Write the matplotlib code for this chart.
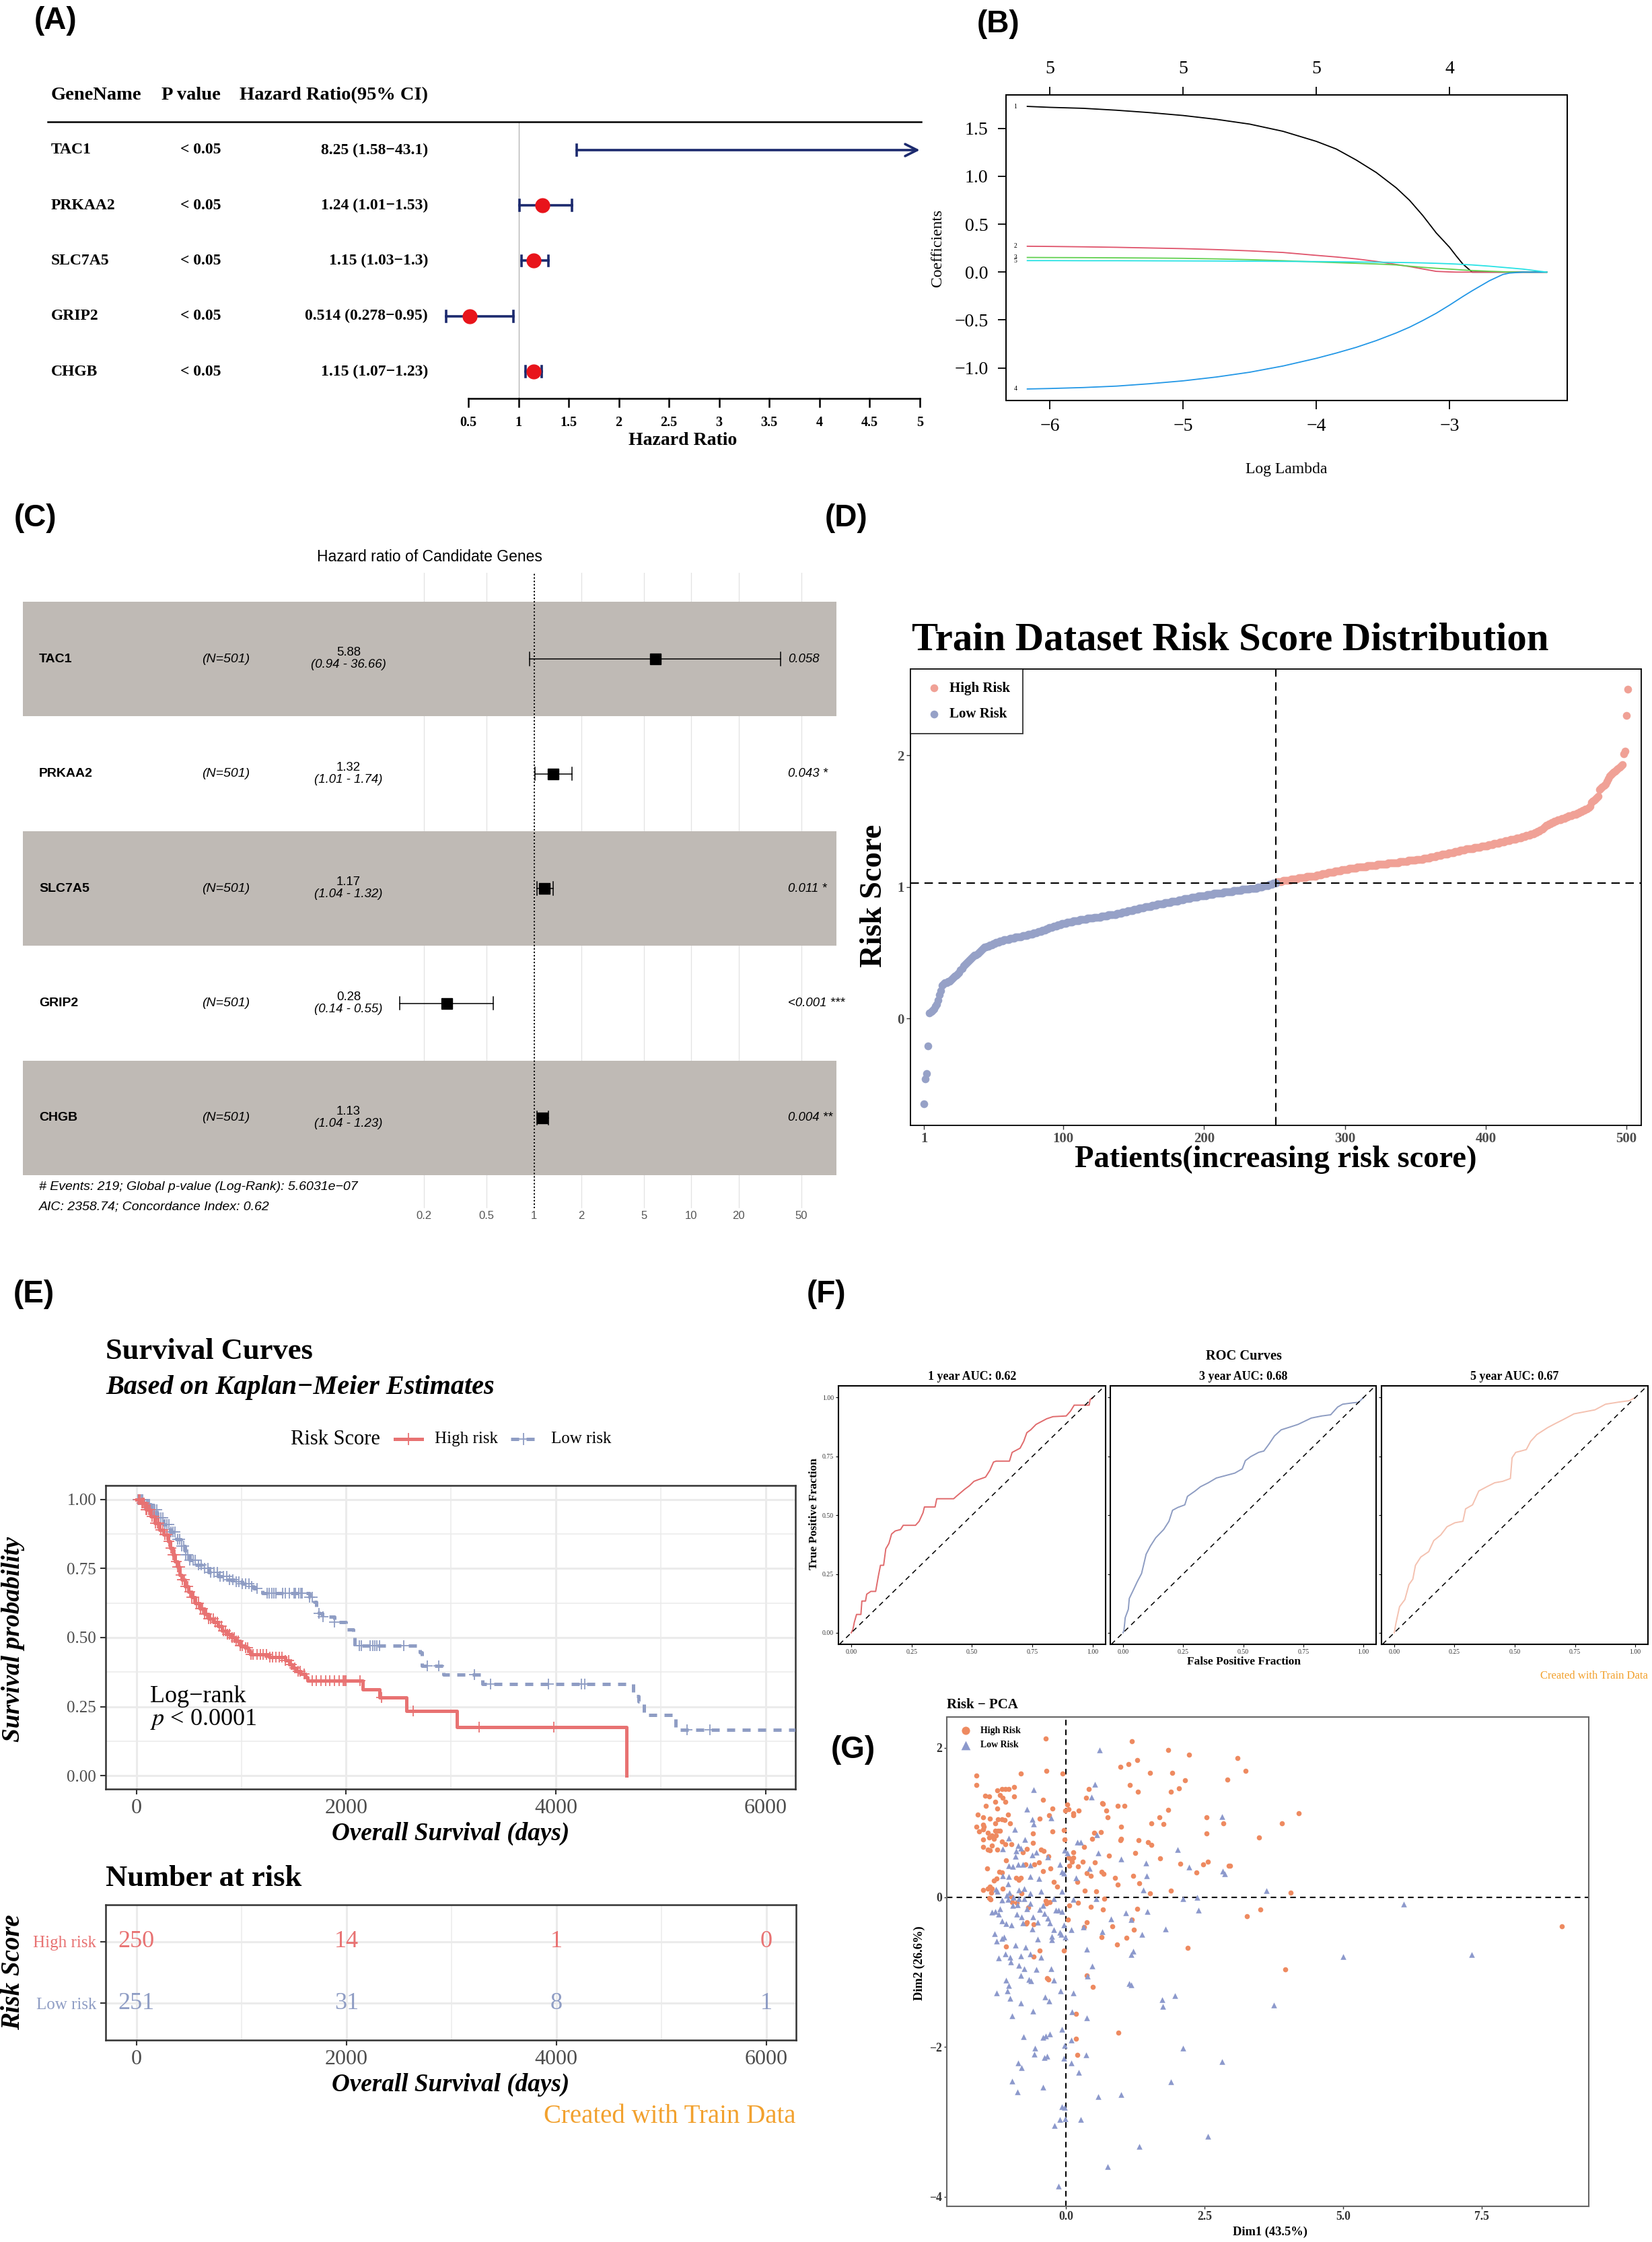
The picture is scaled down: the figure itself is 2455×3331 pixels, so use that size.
import numpy as np
import matplotlib
matplotlib.use('Agg')
import matplotlib.pyplot as plt
from matplotlib.lines import Line2D
from matplotlib import transforms as mtrans

plt.rcParams['font.family'] = ['Liberation Serif', 'DejaVu Serif']
plt.rcParams['mathtext.fontset'] = 'stix'
SANS = ['Liberation Sans', 'DejaVu Sans']

# ---------------- data ----------------
# (A) univariate cox
genes = ['TAC1', 'PRKAA2', 'SLC7A5', 'GRIP2', 'CHGB']
uni_p = ['< 0.05', '< 0.05', '< 0.05', '< 0.05', '< 0.05']
uni_hr = [8.25, 1.24, 1.15, 0.514, 1.15]
uni_lo = [1.58, 1.01, 1.03, 0.278, 1.07]
uni_hi = [43.1, 1.53, 1.3, 0.95, 1.23]

# (B) lasso coefficient paths
log_lambda = [-6.17, -6.0, -5.75, -5.5, -5.25, -5.0, -4.75, -4.5, -4.25, -4.0, -3.85, -3.7, -3.55,
              -3.4, -3.3, -3.2, -3.1, -3.0, -2.95, -2.9, -2.83, -2.7, -2.6, -2.55, -2.45, -2.27]
coef1 = [1.73, 1.72, 1.71, 1.69, 1.665, 1.635, 1.595, 1.545, 1.47, 1.365, 1.285, 1.17, 1.04,
         0.88, 0.75, 0.59, 0.41, 0.26, 0.17, 0.085, 0.0, 0, 0, 0, 0, 0]
coef2 = [0.27, 0.268, 0.264, 0.259, 0.252, 0.245, 0.235, 0.222, 0.205, 0.175, 0.158, 0.138, 0.112,
         0.08, 0.058, 0.033, 0.008, 0.002, 0, 0, 0, 0, 0, 0, 0, 0]
coef3 = [0.153, 0.152, 0.151, 0.149, 0.147, 0.144, 0.138, 0.130, 0.119, 0.106, 0.099, 0.092, 0.085,
         0.075, 0.062, 0.05, 0.04, 0.032, 0.027, 0.022, 0.017, 0.009, 0.004, 0.001, 0, 0]
coef4 = [-1.22, -1.215, -1.205, -1.19, -1.165, -1.135, -1.095, -1.045, -0.98, -0.90, -0.845, -0.785, -0.715,
         -0.635, -0.575, -0.505, -0.43, -0.345, -0.30, -0.255, -0.195, -0.09, -0.025, -0.01, 0.0, 0.0]
coef5 = [0.120, 0.120, 0.119, 0.119, 0.118, 0.117, 0.116, 0.114, 0.112, 0.110, 0.108, 0.106, 0.104,
         0.101, 0.099, 0.096, 0.092, 0.087, 0.084, 0.080, 0.075, 0.062, 0.050, 0.044, 0.032, 0.0]
top_df = ['5', '5', '5', '4']

# (C) multivariate cox
mv_n = ['(N=501)'] * 5
mv_hr = [5.88, 1.32, 1.17, 0.28, 1.13]
mv_lo = [0.94, 1.01, 1.04, 0.14, 1.04]
mv_hi = [36.66, 1.74, 1.32, 0.55, 1.23]
mv_p = ['0.058', '0.043 *', '0.011 *', '<0.001 ***', '0.004 **']
mv_ticks = [0.2, 0.5, 1, 2, 5, 10, 20, 50]

# (D) sorted risk scores
risk_low = [
    -0.65, -0.46, -0.42, -0.21, 0.04, 0.05, 0.06, 0.07, 0.09, 0.11,
    0.14, 0.18, 0.21, 0.25, 0.26, 0.27, 0.27, 0.28, 0.28, 0.29,
    0.30, 0.31, 0.32, 0.33, 0.34, 0.35, 0.37, 0.38, 0.40, 0.41,
    0.42, 0.43, 0.44, 0.45, 0.46, 0.47, 0.48, 0.48, 0.49, 0.50,
    0.51, 0.52, 0.53, 0.54, 0.54, 0.55, 0.55, 0.56, 0.56, 0.57,
    0.57, 0.58, 0.58, 0.58, 0.59, 0.59, 0.59, 0.60, 0.60, 0.60,
    0.60, 0.61, 0.61, 0.61, 0.61, 0.62, 0.62, 0.62, 0.62, 0.62,
    0.63, 0.63, 0.63, 0.63, 0.64, 0.64, 0.64, 0.64, 0.65, 0.65,
    0.65, 0.66, 0.66, 0.66, 0.67, 0.67, 0.67, 0.68, 0.68, 0.69,
    0.69, 0.69, 0.70, 0.70, 0.70, 0.71, 0.71, 0.71, 0.72, 0.72,
    0.72, 0.72, 0.73, 0.73, 0.73, 0.73, 0.74, 0.74, 0.74, 0.74,
    0.74, 0.75, 0.75, 0.75, 0.75, 0.75, 0.76, 0.76, 0.76, 0.76,
    0.76, 0.77, 0.77, 0.77, 0.77, 0.77, 0.78, 0.78, 0.78, 0.78,
    0.78, 0.79, 0.79, 0.79, 0.79, 0.79, 0.79, 0.80, 0.80, 0.80,
    0.80, 0.81, 0.81, 0.81, 0.81, 0.82, 0.82, 0.82, 0.82, 0.83,
    0.83, 0.83, 0.83, 0.84, 0.84, 0.84, 0.84, 0.85, 0.85, 0.85,
    0.85, 0.85, 0.86, 0.86, 0.86, 0.86, 0.87, 0.87, 0.87, 0.87,
    0.87, 0.88, 0.88, 0.88, 0.88, 0.88, 0.89, 0.89, 0.89, 0.89,
    0.89, 0.90, 0.90, 0.90, 0.90, 0.91, 0.91, 0.91, 0.91, 0.91,
    0.92, 0.92, 0.92, 0.92, 0.92, 0.93, 0.93, 0.93, 0.93, 0.93,
    0.93, 0.94, 0.94, 0.94, 0.94, 0.94, 0.95, 0.95, 0.95, 0.95,
    0.95, 0.95, 0.95, 0.96, 0.96, 0.96, 0.96, 0.96, 0.96, 0.96,
    0.97, 0.97, 0.97, 0.97, 0.97, 0.97, 0.98, 0.98, 0.98, 0.98,
    0.98, 0.98, 0.99, 0.99, 0.99, 0.99, 0.99, 1.00, 1.00, 1.00,
    1.00, 1.01, 1.01, 1.01, 1.01, 1.02, 1.02, 1.02, 1.03, 1.03,
    1.03]
risk_high = [
    1.04, 1.04, 1.04, 1.04, 1.05, 1.05, 1.05, 1.05, 1.05,
    1.05, 1.06, 1.06, 1.06, 1.06, 1.06, 1.07, 1.07, 1.07, 1.07,
    1.07, 1.07, 1.08, 1.08, 1.08, 1.08, 1.08, 1.08, 1.08, 1.09,
    1.09, 1.09, 1.09, 1.10, 1.10, 1.10, 1.10, 1.11, 1.11, 1.11,
    1.11, 1.11, 1.12, 1.12, 1.12, 1.12, 1.12, 1.13, 1.13, 1.13,
    1.13, 1.13, 1.14, 1.14, 1.14, 1.14, 1.14, 1.14, 1.15, 1.15,
    1.15, 1.15, 1.15, 1.15, 1.15, 1.16, 1.16, 1.16, 1.16, 1.16,
    1.16, 1.16, 1.17, 1.17, 1.17, 1.17, 1.17, 1.17, 1.17, 1.17,
    1.18, 1.18, 1.18, 1.18, 1.18, 1.18, 1.18, 1.18, 1.19, 1.19,
    1.19, 1.19, 1.19, 1.19, 1.20, 1.20, 1.20, 1.20, 1.20, 1.20,
    1.21, 1.21, 1.21, 1.21, 1.21, 1.22, 1.22, 1.22, 1.22, 1.22,
    1.23, 1.23, 1.23, 1.23, 1.24, 1.24, 1.24, 1.24, 1.25, 1.25,
    1.25, 1.25, 1.25, 1.26, 1.26, 1.26, 1.26, 1.27, 1.27, 1.27,
    1.27, 1.28, 1.28, 1.28, 1.28, 1.29, 1.29, 1.29, 1.29, 1.29,
    1.29, 1.30, 1.30, 1.30, 1.30, 1.30, 1.31, 1.31, 1.31, 1.31,
    1.31, 1.32, 1.32, 1.32, 1.32, 1.33, 1.33, 1.33, 1.33, 1.34,
    1.34, 1.34, 1.34, 1.35, 1.35, 1.35, 1.35, 1.36, 1.36, 1.36,
    1.36, 1.37, 1.37, 1.37, 1.37, 1.38, 1.38, 1.38, 1.39, 1.39,
    1.39, 1.40, 1.40, 1.40, 1.41, 1.41, 1.42, 1.42, 1.43, 1.44,
    1.45, 1.46, 1.47, 1.47, 1.48, 1.48, 1.49, 1.49, 1.50, 1.50,
    1.51, 1.51, 1.51, 1.52, 1.52, 1.52, 1.53, 1.53, 1.54, 1.54,
    1.54, 1.55, 1.55, 1.55, 1.56, 1.56, 1.57, 1.57, 1.58, 1.58,
    1.59, 1.59, 1.60, 1.61, 1.64, 1.65, 1.66, 1.67, 1.68, 1.69,
    1.74, 1.75, 1.76, 1.77, 1.78, 1.80, 1.82, 1.84, 1.85, 1.86,
    1.87, 1.88, 1.89, 1.90, 1.91, 1.92, 1.93, 2.01, 2.03, 2.30, 2.50]
risk_cut = 1.03

# (E) Kaplan-Meier
km_high_t = [0, 47, 90, 133, 176, 218, 261, 304, 325, 347, 368, 390, 411, 432, 465, 497, 529, 561,
             604, 647, 689, 732, 775, 818, 861, 904, 946, 989, 1032, 1064, 1085, 1267, 1417, 1460,
             1492, 1524, 1567, 1610, 1631, 2156, 2316, 2573, 3055, 4675]
km_high_s = [1.0, 0.986, 0.962, 0.938, 0.913, 0.889, 0.873, 0.848, 0.824, 0.800, 0.775, 0.755, 0.726,
             0.710, 0.686, 0.666, 0.645, 0.625, 0.605, 0.584, 0.568, 0.556, 0.540, 0.524, 0.511, 0.499,
             0.487, 0.471, 0.463, 0.450, 0.438, 0.430, 0.418, 0.402, 0.390, 0.377, 0.369, 0.357, 0.345,
             0.3125, 0.284, 0.235, 0.176, 0.0]
km_low_t = [0, 4, 68, 133, 197, 261, 325, 379, 422, 465, 507, 561, 625, 689, 775, 861, 946, 1010, 1075,
            1118, 1160, 1203, 1653, 1696, 1717, 1738, 1771, 1888, 1995, 2070, 2081, 2702, 2723, 2927,
            3303, 4741, 4790, 4840, 5140, 6300]
km_low_s = [1.0, 0.998, 0.982, 0.962, 0.933, 0.909, 0.881, 0.856, 0.832, 0.800, 0.779, 0.763, 0.751,
            0.735, 0.722, 0.710, 0.702, 0.694, 0.686, 0.678, 0.671, 0.661, 0.645, 0.629, 0.605, 0.588,
            0.576, 0.556, 0.528, 0.499, 0.470, 0.446, 0.398, 0.365, 0.331, 0.288, 0.268, 0.221, 0.166,
            0.166]
cens_high = [20, 35, 50, 60, 75, 90, 100, 115, 130, 150, 165, 180, 200, 215, 230, 250, 270, 290, 310,
             330, 350, 365, 380, 395, 410, 425, 440, 455, 470, 490, 510, 530, 550, 570, 590, 610, 630,
             650, 670, 690, 710, 730, 750, 770, 790, 810, 830, 850, 870, 890, 910, 930, 950, 970, 990,
             1010, 1040, 1060, 1090, 1110, 1150, 1180, 1210, 1240, 1270, 1300, 1330, 1360, 1390, 1420,
             1450, 1480, 1510, 1540, 1560, 1600, 1674, 1717, 1760, 1803, 1846, 1888, 1931, 1974, 1985,
             1995, 2134, 2338, 2638, 3270, 3978]
cens_low = [15, 30, 45, 60, 80, 95, 110, 125, 140, 160, 175, 195, 210, 230, 250, 270, 290, 310, 330,
            350, 370, 390, 410, 430, 450, 470, 490, 510, 540, 560, 590, 620, 650, 680, 710, 740, 770,
            800, 830, 860, 890, 920, 950, 980, 1010, 1040, 1070, 1100, 1150, 1246, 1267, 1289, 1310,
            1332, 1396, 1417, 1460, 1503, 1514, 1546, 1567, 1578, 1653, 1674, 1738, 1781, 1888, 2124,
            2145, 2231, 2252, 2274, 2295, 2317, 2552, 2777, 2883, 3221, 3380, 3929, 4243, 4276, 5250,
            5471]
risk_times = [0, 2000, 4000, 6000]
risk_n_high = [250, 14, 1, 0]
risk_n_low = [251, 31, 8, 1]

# (F) time-dependent ROC
roc_years = [1, 3, 5]
roc_auc = ['0.62', '0.68', '0.67']
fpr1 = [0, 0.007, 0.013, 0.022, 0.04, 0.044, 0.059, 0.064, 0.081, 0.101, 0.112, 0.121, 0.134, 0.143,
        0.156, 0.167, 0.182, 0.204, 0.215, 0.266, 0.281, 0.297, 0.303, 0.347, 0.354, 0.424, 0.437,
        0.451, 0.468, 0.49, 0.508, 0.523, 0.556, 0.574, 0.589, 0.6, 0.655, 0.666, 0.677, 0.699, 0.714,
        0.727, 0.743, 0.765, 0.787, 0.809, 0.835, 0.89, 0.908, 0.923, 0.985, 0.989, 1.0]
tpr1 = [0, 0.015, 0.046, 0.078, 0.078, 0.135, 0.135, 0.164, 0.176, 0.176, 0.24, 0.287, 0.287, 0.357,
        0.38, 0.42, 0.433, 0.439, 0.457, 0.457, 0.474, 0.51, 0.535, 0.535, 0.57, 0.57, 0.582, 0.594,
        0.609, 0.626, 0.644, 0.65, 0.662, 0.691, 0.726, 0.73, 0.73, 0.767, 0.773, 0.785, 0.814, 0.851,
        0.863, 0.886, 0.898, 0.91, 0.919, 0.922, 0.943, 0.968, 0.968, 0.992, 1.0]
fpr2 = [0, 0.004, 0.009, 0.022, 0.026, 0.042, 0.059, 0.077, 0.088, 0.096, 0.114, 0.136, 0.169, 0.191,
        0.206, 0.228, 0.257, 0.268, 0.3, 0.322, 0.355, 0.388, 0.421, 0.465, 0.496, 0.509, 0.531, 0.564,
        0.586, 0.607, 0.63, 0.658, 0.695, 0.728, 0.783, 0.827, 0.864, 0.893, 0.914, 0.958, 0.98, 1.0]
tpr2 = [0, 0.012, 0.064, 0.1, 0.146, 0.18, 0.217, 0.252, 0.299, 0.334, 0.369, 0.404, 0.439, 0.474,
        0.521, 0.533, 0.544, 0.58, 0.603, 0.621, 0.638, 0.658, 0.667, 0.679, 0.697, 0.732, 0.749, 0.767,
        0.773, 0.802, 0.837, 0.863, 0.875, 0.886, 0.913, 0.922, 0.927, 0.96, 0.972, 0.978, 0.98, 1.0]
fpr3 = [0, 0.007, 0.022, 0.044, 0.061, 0.077, 0.088, 0.11, 0.143, 0.164, 0.193, 0.219, 0.252, 0.285,
        0.296, 0.325, 0.351, 0.384, 0.417, 0.45, 0.482, 0.489, 0.504, 0.548, 0.566, 0.592, 0.636, 0.669,
        0.702, 0.746, 0.833, 0.877, 0.932, 0.976, 1.0]
tpr3 = [0, 0.041, 0.111, 0.141, 0.205, 0.228, 0.287, 0.322, 0.345, 0.392, 0.416, 0.451, 0.468, 0.474,
        0.527, 0.544, 0.603, 0.621, 0.638, 0.644, 0.656, 0.744, 0.767, 0.779, 0.814, 0.843, 0.872, 0.89,
        0.907, 0.931, 0.948, 0.972, 0.981, 0.987, 1.0]

# (G) PCA scores
pca_high = [
    (-0.36, 2.12), (1.19, 2.09), (1.84, 1.97), (2.22, 1.91), (3.09, 1.86), (1.29, 1.83), (1.13, 1.78),
    (0.98, 1.74), (3.24, 1.69), (-0.35, 1.69), (1.51, 1.66), (1.92, 1.66), (-0.06, 1.65), (-0.81, 1.65),
    (-1.62, 1.63), (2.91, 1.57), (2.15, 1.56), (1.15, 1.50), (-1.62, 1.50), (2.04, 1.46), (0.41, 1.45),
    (-0.94, 1.47), (-1.03, 1.45), (-1.10, 1.45), (-1.16, 1.45), (-1.24, 1.43), (1.30, 1.41), (1.89, 1.41),
    (-1.46, 1.36), (-1.39, 1.35), (-1.19, 1.37), (-0.94, 1.35), (-1.14, 1.33), (0.36, 1.33), (-0.42, 1.30),
    (-1.10, 1.28), (-1.27, 1.28), (0.66, 1.26), (0.67, 1.25), (1.06, 1.22), (0.93, 1.22), (-1.44, 1.22),
    (0.02, 1.24), (-1.24, 1.19), (-0.24, 1.19), (-0.01, 1.16), (0.05, 1.18), (0.23, 1.16), (0.73, 1.16),
    (-1.59, 1.11), (-1.05, 1.11), (-0.31, 1.10), (0.13, 1.12), (0.13, 1.10), (4.20, 1.12), (-1.49, 1.07),
    (-1.37, 1.05), (-1.23, 1.04), (-1.16, 1.04), (-1.11, 1.03), (-0.48, 1.05), (0.75, 1.07), (1.69, 1.07),
    (2.54, 1.07), (1.84, 1.17), (-1.50, 0.97), (-1.28, 0.99), (-1.01, 0.99), (1.54, 0.99), (1.76, 0.98),
    (2.84, 0.99), (3.90, 0.99), (-1.62, 0.94), (-1.48, 0.94), (-1.49, 0.91), (0.99, 0.94), (-1.27, 0.89),
    (-1.23, 0.89), (-1.19, 0.89), (-0.25, 0.88), (-0.04, 0.90), (-1.57, 0.88), (-1.41, 0.86), (-1.34, 0.83),
    (-1.26, 0.83), (-1.38, 0.80), (-1.30, 0.78), (0.63, 0.87), (0.51, 0.86), (-0.60, 0.85), (3.48, 0.80),
    (2.54, 0.85), (-1.49, 0.77), (-0.03, 0.77), (0.47, 0.78), (0.99, 0.78), (1.31, 0.76), (1.48, 0.74),
    (0.98, 0.76), (-1.16, 0.75), (1.54, 0.70), (-0.99, 0.71), (-1.34, 0.69), (-1.10, 0.71), (-0.60, 0.73),
    (-1.50, 0.67), (-1.41, 0.64), (-1.37, 0.63), (-1.24, 0.64), (-0.71, 0.65), (-0.45, 0.64), (0.33, 0.67),
    (-0.40, 0.62), (-0.78, 0.60), (0.13, 0.60), (1.25, 0.59), (0.78, 0.56), (-0.32, 0.55), (0.05, 0.53),
    (0.09, 0.51), (0.13, 0.53), (0.11, 0.48), (1.70, 0.52), (-1.08, 0.49), (0.30, 0.48), (-0.49, 0.47),
    (0.52, 0.47), (2.56, 0.48), (2.96, 0.42), (2.93, 0.42), (2.06, 0.45), (2.48, 0.44), (-0.73, 0.44),
    (-0.57, 0.44), (0.22, 0.41), (0.06, 0.42), (-0.28, 0.39), (-1.42, 0.39), (-0.41, 0.35), (-1.20, 0.34),
    (-1.16, 0.33), (0.64, 0.34), (2.35, 0.33), (0.38, 0.32), (0.68, 0.31), (1.21, 0.29), (0.45, 0.29),
    (-0.90, 0.26), (-0.81, 0.26), (0.88, 0.26), (-1.25, 0.25), (-0.85, 0.23), (-1.30, 0.22), (0.21, 0.21),
    (-0.22, 0.21), (0.93, 0.17), (1.32, 0.19), (-1.37, 0.14), (-1.41, 0.12), (-1.34, 0.12), (-1.14, 0.12),
    (-0.16, 0.14), (-1.49, 0.10), (1.89, 0.09), (0.34, 0.09), (0.55, 0.08), (4.05, 0.06), (-1.35, 0.06),
    (1.51, 0.05), (-0.80, 0.05), (-0.99, 0.01), (-1.36, -0.03), (-1.39, -0.01), (-0.36, -0.05),
    (-0.29, -0.06), (0.69, -0.02), (0.22, -0.07), (-0.35, -0.08), (-0.97, -0.06), (-0.89, -0.07),
    (0.06, -0.11), (0.45, -0.13), (0.67, -0.16), (1.29, -0.15), (3.51, -0.16), (-0.68, -0.14),
    (3.26, -0.25), (1.19, -0.30), (0.04, -0.30), (0.37, -0.33), (0.84, -0.39), (1.23, -0.43),
    (0.33, -0.40), (0.64, -0.53), (1.09, -0.54), (-0.70, -0.33), (-0.72, -0.35), (-0.59, -0.36),
    (8.95, -0.39), (0.92, -0.63), (2.20, -0.68), (-1.08, -0.66), (-0.47, -0.71), (-0.04, -0.71),
    (-0.59, -0.79), (3.95, -0.96), (0.38, -1.04), (-0.34, -1.08), (0.49, -1.20), (0.18, -1.56),
    (0.95, -1.81), (0.18, -1.89), (0.21, -2.11), (-0.32, -1.10)]
pca_low = [
    (0.60, 1.97), (0.52, 1.51), (-0.59, 1.44), (0.46, 1.34), (-0.71, 1.18), (-0.61, 1.04), (-0.58, 0.98),
    (-0.27, 1.06), (2.81, 1.08), (-0.92, 0.91), (0.56, 0.84), (-1.03, 0.79), (-0.74, 0.77), (0.21, 0.74),
    (0.26, 0.74), (-0.86, 0.69), (-0.81, 0.66), (-1.14, 0.65), (-0.90, 0.62), (-0.54, 0.60), (-0.03, 0.63),
    (0.02, 0.59), (0.58, 0.59), (2.01, 0.64), (-0.91, 0.55), (-0.61, 0.57), (-0.33, 0.54), (0.99, 0.51),
    (-0.86, 0.44), (-1.03, 0.42), (-0.96, 0.41), (-0.78, 0.44), (-0.65, 0.43), (-0.11, 0.44), (0.42, 0.39),
    (2.22, 0.40), (1.44, 0.46), (2.83, 0.35), (2.86, 0.31), (-1.14, 0.29), (-1.03, 0.28), (-0.08, 0.34),
    (-0.04, 0.32), (0.18, 0.26), (1.45, 0.29), (-0.65, 0.28), (-0.49, 0.25), (-1.04, 0.18), (-1.26, 0.11),
    (-1.24, 0.08), (-1.02, 0.06), (-0.85, 0.10), (-0.76, 0.12), (-0.65, 0.05), (-0.45, 0.08), (-0.08, 0.08),
    (1.39, 0.10), (3.62, 0.09), (-1.07, 0.03), (-0.95, 0.00), (-0.85, -0.02), (-1.05, -0.03), (-1.16, -0.04),
    (-0.75, -0.02), (-0.22, -0.02), (0.13, -0.03), (0.54, -0.02), (2.11, -0.02), (2.37, 0.00), (-0.65, -0.08),
    (-0.96, -0.11), (-0.87, -0.10), (-1.19, -0.15), (-1.34, -0.20), (-1.28, -0.19), (-0.71, -0.15),
    (-0.48, -0.16), (-0.18, -0.17), (-0.13, -0.17), (-0.07, -0.19), (-0.41, -0.11), (2.39, -0.17),
    (1.47, -0.19), (1.08, -0.21), (-1.22, -0.23), (-0.80, -0.26), (-0.89, -0.23), (-0.39, -0.22),
    (-0.33, -0.28), (-0.60, -0.26), (0.81, -0.29), (1.18, -0.30), (-1.16, -0.32), (-1.08, -0.35),
    (-0.99, -0.37), (-0.78, -0.34), (-0.51, -0.33), (-0.29, -0.34), (-0.04, -0.37), (0.09, -0.43),
    (0.31, -0.40), (1.79, -0.42), (-0.61, -0.42), (-0.22, -0.43), (0.65, -0.46), (1.37, -0.50),
    (-1.29, -0.49), (-0.11, -0.47), (-0.09, -0.50), (-0.01, -0.53), (-0.26, -0.52), (-0.51, -0.56),
    (-1.16, -0.55), (-1.12, -0.53), (-1.25, -0.59), (-0.91, -0.64), (-0.73, -0.67), (-0.26, -0.57),
    (0.37, -0.69), (1.21, -0.72), (1.18, -0.77), (-1.22, -0.81), (-1.10, -0.76), (-1.01, -0.80),
    (-0.81, -0.78), (-0.65, -0.76), (-0.45, -0.80), (5.00, -0.79), (7.32, -0.77), (6.09, -0.09),
    (-0.85, -0.91), (-0.76, -0.95), (-0.54, -0.96), (-0.27, -0.95), (0.47, -0.92), (-1.00, -0.86),
    (-0.82, -1.04), (-0.67, -1.10), (-0.63, -1.12), (-1.08, -1.11), (-0.22, -1.11), (0.39, -1.05),
    (-1.03, -1.18), (-1.06, -1.25), (-1.25, -1.28), (-1.01, -1.35), (-0.10, -1.25), (0.13, -1.28),
    (1.14, -1.15), (1.17, -1.17), (-0.38, -1.33), (-0.31, -1.39), (-0.82, -1.41), (1.73, -1.37),
    (1.96, -1.31), (1.75, -1.46), (3.75, -1.44), (-0.60, -1.52), (-0.97, -1.58), (0.11, -1.53),
    (0.37, -1.61), (-0.08, -1.76), (-0.77, -1.86), (-0.42, -1.87), (-0.36, -1.85), (-0.29, -1.83),
    (-0.02, -1.98), (0.09, -1.91), (-0.56, -2.02), (2.11, -2.02), (-0.57, -2.10), (-0.39, -2.14),
    (-0.34, -2.12), (-0.04, -2.15), (0.36, -2.11), (0.09, -2.21), (-0.86, -2.21), (-0.80, -2.28),
    (2.82, -2.20), (0.23, -2.34), (-0.97, -2.46), (-0.87, -2.60), (1.89, -2.47), (-0.41, -2.54),
    (0.58, -2.66), (0.99, -2.64), (-0.08, -2.80), (-0.03, -2.81), (-0.11, -2.97), (-0.01, -2.96),
    (0.26, -2.97), (-0.21, -3.05), (2.56, -3.19), (1.32, -3.33), (0.75, -3.60), (-0.14, -3.86)]

# ---------------- figure ----------------
W, H = 2455, 3331
fig = plt.figure(figsize=(W / 100, H / 100), dpi=100)
fig.patch.set_facecolor('white')


def px_axes(x0, y0, x1, y1):
    return fig.add_axes([x0 / W, 1 - y1 / H, (x1 - x0) / W, (y1 - y0) / H])


def ftext(x, y, s, **kw):
    return fig.text(x / W, 1 - y / H, s, **kw)


def fline(xs, ys, **kw):
    fig.add_artist(Line2D([x / W for x in xs], [1 - y / H for y in ys], **kw))


for lab, x, y in [('(A)', 51, 31), ('(B)', 1452, 36), ('(C)', 21, 770), ('(D)', 1226, 770),
                  ('(E)', 20, 1923), ('(F)', 1199, 1923), ('(G)', 1235, 2600)]:
    ftext(x, y, lab, family=SANS, weight='bold', fontsize=33, va='center')

# ---- (A) ----
navy, dot_red = '#1C2A6E', '#E8141B'
ax = px_axes(0, 100, 1380, 680)
ax.set_xlim(-4.168, 5.088)
ax.set_ylim(5.556, -1.495)
ax.axis('off')
tfa = mtrans.blended_transform_factory(fig.transFigure, ax.transData)
ftext(76, 142, 'GeneName', weight='bold', fontsize=20.5, va='center')
ftext(328, 142, 'P value', weight='bold', fontsize=20.5, va='center', ha='right')
ftext(636, 142, 'Hazard Ratio(95% CI)', weight='bold', fontsize=20.5, va='center', ha='right')
fline([71, 1369], [181, 181], color='black', lw=1.8)
ax.plot([1, 1], [-0.51, 4.486], color='#B0B0B0', lw=0.9)
for i, g in enumerate(genes):
    ax.text(76 / W, i, g, transform=tfa, fontsize=17, weight='bold', va='center')
    ax.text(328 / W, i, uni_p[i], transform=tfa, fontsize=17, weight='bold', va='center', ha='right')
    ax.text(636 / W, i, f'{uni_hr[i]} ({uni_lo[i]}\u2212{uni_hi[i]})', transform=tfa,
            fontsize=17, weight='bold', va='center', ha='right')
    lo, hi, hr = uni_lo[i], uni_hi[i], uni_hr[i]
    ax.plot([lo, lo], [i - 0.095, i + 0.095], color=navy, lw=2.6)
    if hi > 5:
        ax.annotate('', xy=(5, i), xytext=(lo, i),
                    arrowprops=dict(arrowstyle='->', color=navy, lw=2.6, mutation_scale=32,
                                    shrinkA=0, shrinkB=0))
    else:
        ax.plot([lo, hi], [i, i], color=navy, lw=2.6)
        ax.plot([hi, hi], [i - 0.095, i + 0.095], color=navy, lw=2.6)
    if hr <= 5:
        ax.plot(hr, i, 'o', color=dot_red, ms=15, zorder=4)
ax.plot([0.5, 5], [4.486, 4.486], color='black', lw=1.8)
for t in np.arange(0.5, 5.01, 0.5):
    ax.plot([t, t], [4.486, 4.632], color='black', lw=1.8)
    ax.text(t, 4.924, f'{t:g}', ha='center', va='center', weight='bold', fontsize=14.5)
ax.text(2.64, 5.25, 'Hazard Ratio', ha='center', va='center', weight='bold', fontsize=20)

# ---- (B) ----
lasso_cols = ['black', '#DF536B', '#61D04F', '#2297E6', '#28E2E5']
coefs = [coef1, coef2, coef3, coef4, coef5]
axb = px_axes(1495, 141, 2329, 595)
for k, (c, col) in enumerate(zip(coefs, lasso_cols)):
    axb.plot(log_lambda, c, color=col, lw=1.3)
    axb.text(-6.26, c[0], str(k + 1), fontsize=7, ha='center', va='center')
axb.set_xlim(-6.33, -2.116)
axb.set_ylim(-1.34, 1.85)
axb.set_xticks([-6, -5, -4, -3])
axb.set_xticklabels(['\u22126', '\u22125', '\u22124', '\u22123'])
axb.set_yticks([-1, -0.5, 0, 0.5, 1, 1.5])
axb.set_yticklabels(['\u22121.0', '\u22120.5', '0.0', '0.5', '1.0', '1.5'])
axb.tick_params(direction='out', length=9, width=1.3, labelsize=20, pad=10)
for s in axb.spines.values():
    s.set_linewidth(1.4)
topb = axb.twiny()
topb.set_xlim(axb.get_xlim())
topb.set_xticks([-6, -5, -4, -3])
topb.set_xticklabels(top_df)
topb.tick_params(direction='out', length=9, width=1.3, labelsize=20, pad=10)
ftext(1912, 697, 'Log Lambda', ha='center', va='center', fontsize=17)
ftext(1394, 368, 'Coefficients', ha='center', va='center', fontsize=17, rotation=90)

# ---- (C) ----
band = '#BFBAB5'
axc = px_axes(34, 851, 1243, 1795)
axc.set_xscale('log')
axc.set_xlim(10 ** -3.246, 10 ** 1.921)
axc.set_ylim(4.786, -0.751)
for t in mv_ticks:
    axc.axvline(t, color='#E2E2E2', lw=0.9, zorder=0)
for i in range(len(genes)):
    if i % 2 == 0:
        axc.axhspan(i - 0.5, i + 0.5, color=band, lw=0, zorder=1)
axc.axvline(1, color='black', ls=(0, (1, 1.6)), lw=1.4, zorder=2)
tfc = mtrans.blended_transform_factory(fig.transFigure, axc.transData)
for i, g in enumerate(genes):
    axc.plot([mv_lo[i], mv_hi[i]], [i, i], color='black', lw=1.1, zorder=3)
    for e in (mv_lo[i], mv_hi[i]):
        axc.plot([e, e], [i - 0.056, i + 0.056], color='black', lw=1.1, zorder=3)
    axc.plot(mv_hr[i], i, 's', color='black', ms=11, zorder=4)
    axc.text(58 / W, i, g, transform=tfc, family=SANS, weight='bold', fontsize=14, va='center')
    axc.text(336 / W, i, mv_n[i], transform=tfc, family=SANS, style='italic', fontsize=14,
             va='center', ha='center')
    axc.text(518 / W, i - 0.055, f'{mv_hr[i]:.2f}', transform=tfc, family=SANS, fontsize=13.4,
             va='center', ha='center')
    axc.text(518 / W, i + 0.05, f'({mv_lo[i]:.2f} - {mv_hi[i]:.2f})', transform=tfc, family=SANS,
             style='italic', fontsize=13.4, va='center', ha='center')
    axc.text(1171 / W, i, mv_p[i], transform=tfc, family=SANS, style='italic', fontsize=13.4,
             va='center')
axc.set_xticks(mv_ticks)
axc.set_xticklabels([f'{t:g}' for t in mv_ticks], family=SANS)
axc.minorticks_off()
axc.tick_params(axis='x', length=0, labelsize=12, labelcolor='#555555', pad=3)
axc.set_yticks([])
for s in axc.spines.values():
    s.set_visible(False)
ftext(638, 828, 'Hazard ratio of Candidate Genes', family=SANS, fontsize=16.5, ha='center', va='center')
ftext(58, 1764, '# Events: 219; Global p-value (Log-Rank): 5.6031e\u221207', family=SANS,
      style='italic', fontsize=14, va='center')
ftext(58, 1793, 'AIC: 2358.74; Concordance Index: 0.62', family=SANS, style='italic', fontsize=14,
      va='center')

# ---- (D) ----
d_high, d_low = '#F0A196', '#96A1C7'
axd = px_axes(1353, 994, 2439, 1672)
n_low = len(risk_low)
idx_low = np.arange(1, n_low + 1)
idx_high = np.arange(n_low + 1, n_low + len(risk_high) + 1)
hd = axd.scatter(idx_high, risk_high, s=70, color=d_high, lw=0, label='High Risk')
ld = axd.scatter(idx_low, risk_low, s=70, color=d_low, lw=0, label='Low Risk')
axd.axhline(risk_cut, color='black', ls=(0, (6, 4)), lw=1.5)
axd.axvline(n_low, color='black', ls=(0, (6, 4)), lw=1.5)
axd.set_xlim(-8.6, 510.5)
axd.set_ylim(-0.813, 2.655)
axd.set_xticks([1, 100, 200, 300, 400, 500])
axd.set_xticklabels(['1', '100', '200', '300', '400', '500'], fontweight='bold')
axd.set_yticks([0, 1, 2])
axd.set_yticklabels(['0', '1', '2'], fontweight='bold')
axd.tick_params(labelsize=15, labelcolor='#4D4D4D', length=4, width=1, color='#333333', pad=3)
for s in axd.spines.values():
    s.set_linewidth(1.3)
leg = axd.legend(handles=[hd, ld], loc='upper left', bbox_to_anchor=(0, 1), borderaxespad=0,
                 fancybox=False, edgecolor='black', prop=dict(weight='bold', size=15),
                 handletextpad=0.3, handlelength=1.6, borderpad=0.9, labelspacing=0.9)
leg.get_frame().set_linewidth(1.3)
ftext(1355, 951, 'Train Dataset Risk Score Distribution', weight='bold', fontsize=42.2, va='center')
ftext(1896, 1723, 'Patients(increasing risk score)', weight='bold', fontsize=33.5, ha='center', va='center')
ftext(1299, 1331, 'Risk Score', weight='bold', fontsize=33.5, ha='center', va='center', rotation=90)

# ---- (E) ----
km_red, km_blue = '#E87272', '#8F9DC4'
grid_c = '#EBEBEB'


def surv_at(ts, ss, c):
    idx = np.searchsorted(ts, c, side='right') - 1
    return np.asarray(ss)[idx]


def km_style(a, ylabsize):
    a.set_xlim(-294, 6285)
    a.set_xticks(risk_times)
    a.set_xticks([1000, 3000, 5000], minor=True)
    a.grid(True, which='major', color=grid_c, lw=2.2)
    a.grid(True, which='minor', axis='x', color=grid_c, lw=1.1)
    a.set_axisbelow(True)
    for s in a.spines.values():
        s.set_color('#333333')
        s.set_linewidth(1.8)
    a.tick_params(which='major', length=6, width=1.5, color='#333333', labelcolor='#4D4D4D', pad=4)
    a.tick_params(which='minor', length=0)
    a.tick_params(axis='x', labelsize=23)
    a.tick_params(axis='y', labelsize=ylabsize)


axe = px_axes(157, 2207, 1182, 2658)
axe.step(km_low_t, km_low_s, where='post', color=km_blue, lw=3.6, ls=(0, (2.4, 2.2)), zorder=3)
axe.step(km_high_t, km_high_s, where='post', color=km_red, lw=3.6, zorder=4)
axe.plot(cens_low, surv_at(km_low_t, km_low_s, cens_low), '+', color=km_blue, ms=11, mew=1.3, zorder=3)
axe.plot(cens_high, surv_at(km_high_t, km_high_s, cens_high), '+', color=km_red, ms=11, mew=1.3, zorder=4)
km_style(axe, 18)
axe.set_ylim(-0.048, 1.05)
axe.set_yticks([0, 0.25, 0.5, 0.75, 1.0])
axe.set_yticklabels(['0.00', '0.25', '0.50', '0.75', '1.00'])
axe.set_yticks([0.125, 0.375, 0.625, 0.875], minor=True)
axe.grid(True, which='minor', axis='y', color=grid_c, lw=1.1)
axe.text(130, 0.245, 'Log\u2212rank\n$p$ < 0.0001', fontsize=26, va='center', ha='left', linespacing=1.0)

ftext(157, 2008, 'Survival Curves', weight='bold', fontsize=32, va='center')
ftext(157, 2061, 'Based on Kaplan\u2212Meier Estimates', weight='bold', style='italic', fontsize=29,
      va='center')
ftext(432, 2138, 'Risk Score', fontsize=22, va='center')
fline([587, 627], [2138, 2138], color=km_red, lw=3.6)
fig.add_artist(Line2D([607 / W], [1 - 2138 / H], marker='+', color=km_red, ms=13, mew=1.3))
ftext(646, 2138, 'High risk', fontsize=18, va='center')
fline([759, 797], [2138, 2138], color=km_blue, lw=3.6, ls=(0, (2.4, 2.2)))
fig.add_artist(Line2D([778 / W], [1 - 2138 / H], marker='+', color=km_blue, ms=13, mew=1.3))
ftext(819, 2138, 'Low risk', fontsize=18, va='center')
ftext(670, 2724, 'Overall Survival (days)', weight='bold', style='italic', fontsize=26.7,
      ha='center', va='center')
ftext(20, 2435, 'Survival probability', weight='bold', style='italic', fontsize=27, rotation=90,
      ha='center', va='center')

# number at risk table
axt = px_axes(157, 2830, 1183, 3031)
for t, nh, nl in zip(risk_times, risk_n_high, risk_n_low):
    axt.text(t, 2, str(nh), color=km_red, ha='center', va='center', fontsize=26)
    axt.text(t, 1, str(nl), color=km_blue, ha='center', va='center', fontsize=26)
km_style(axt, 18)
axt.set_ylim(0.4, 2.6)
axt.set_yticks([1, 2])
axt.set_yticklabels(['Low risk', 'High risk'])
for tl, col in zip(axt.get_yticklabels(), [km_blue, km_red]):
    tl.set_color(col)
ftext(157, 2791, 'Number at risk', weight='bold', fontsize=32, va='center')
ftext(670, 3097, 'Overall Survival (days)', weight='bold', style='italic', fontsize=26.7,
      ha='center', va='center')
ftext(20, 2930, 'Risk Score', weight='bold', style='italic', fontsize=28, rotation=90,
      ha='center', va='center')
ftext(1183, 3145, 'Created with Train Data', color='#F2A12E', fontsize=28, ha='right', va='center')

# ---- (F) ----
roc_fpr = [fpr1, fpr2, fpr3]
roc_tpr = [tpr1, tpr2, tpr3]
roc_cols = ['#E06A6C', '#8D9CC2', '#F4C1B0']
f_boxes = [(1246, 1643), (1650, 2045), (2053, 2449)]
for k, (x0, x1) in enumerate(f_boxes):
    a = px_axes(x0, 2059, x1, 2443)
    a.plot(roc_fpr[k], roc_tpr[k], color=roc_cols[k], lw=1.4)
    a.axline((0, 0), (1, 1), color='black', ls=(0, (5, 4)), lw=1.1)
    a.set_xlim(-0.053, 1.053)
    a.set_ylim(-0.049, 1.05)
    tk = [0, 0.25, 0.5, 0.75, 1.0]
    tl = ['0.00', '0.25', '0.50', '0.75', '1.00']
    a.set_xticks(tk)
    a.set_xticklabels(tl)
    a.set_yticks(tk)
    a.set_yticklabels(tl if k == 0 else [])
    a.tick_params(labelsize=7, length=3, width=0.8, pad=2, labelcolor='#333333')
    for s in a.spines.values():
        s.set_linewidth(1.5)
    ftext((x0 + x1) / 2, 2046, f'{roc_years[k]} year AUC: {roc_auc[k]}', weight='bold',
          fontsize=13, ha='center', va='center')
ftext(1848, 2015, 'ROC Curves', weight='bold', fontsize=14.7, ha='center', va='center')
ftext(1848, 2469, 'False Positive Fraction', weight='bold', fontsize=12.5, ha='center', va='center')
ftext(1210, 2249, 'True Positive Fraction', weight='bold', fontsize=12.5, ha='center', va='center',
      rotation=90)
ftext(2449, 2490, 'Created with Train Data', color='#F2A12E', fontsize=12, ha='right', va='center')

# ---- (G) ----
g_high, g_low = '#EE8A60', '#8C99CC'
axg = px_axes(1407, 2551, 2361, 3278)
hx, hy = zip(*pca_high)
lx, ly = zip(*pca_low)
axg.scatter(hx, hy, s=30, color=g_high, marker='o', lw=0, label='High Risk', zorder=3)
axg.scatter(lx, ly, s=38, color=g_low, marker='^', lw=0, label='Low Risk', zorder=3)
axg.axhline(0, color='black', ls=(0, (4, 3)), lw=1.5, zorder=2)
axg.axvline(0, color='black', ls=(0, (4, 3)), lw=1.5, zorder=2)
axg.set_xlim(-2.15, 9.43)
axg.set_ylim(-4.13, 2.41)
axg.set_xticks([0, 2.5, 5, 7.5])
axg.set_xticklabels(['0.0', '2.5', '5.0', '7.5'], fontweight='bold')
axg.set_yticks([-4, -2, 0, 2])
axg.set_yticklabels(['\u22124', '\u22122', '0', '2'], fontweight='bold')
axg.tick_params(labelsize=12.7, labelcolor='#333333', length=3, width=1, color='#333333', pad=2)
for s in axg.spines.values():
    s.set_color('#666666')
    s.set_linewidth(1.5)
axg.legend(loc='upper left', frameon=False, prop=dict(weight='bold', size=10), markerscale=1.6,
           handletextpad=0.6, borderaxespad=0.6, labelspacing=0.6)
ftext(1407, 2533, 'Risk \u2212 PCA', weight='bold', fontsize=15, va='center')
ftext(1887, 3316, 'Dim1 (43.5%)', weight='bold', fontsize=13.3, ha='center', va='center')
ftext(1366, 2917, 'Dim2 (26.6%)', weight='bold', fontsize=13.3, ha='center', va='center', rotation=90)

fig.savefig('out.png', dpi=100, facecolor='white')
